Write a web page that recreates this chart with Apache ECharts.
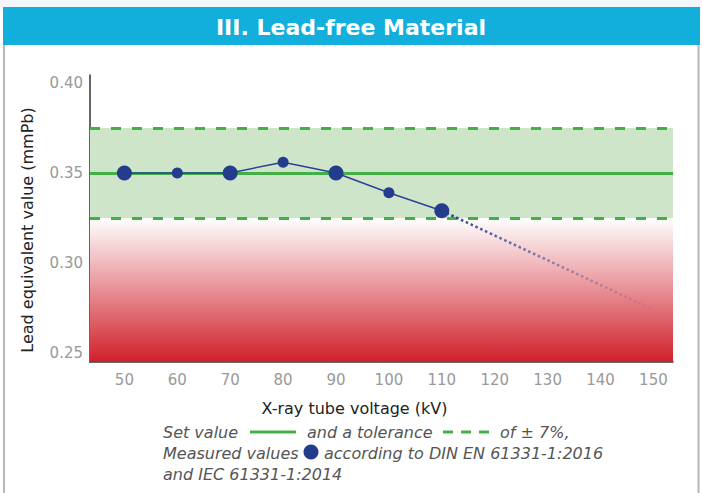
<!DOCTYPE html>
<html>
<head>
<meta charset="utf-8">
<title>III. Lead-free Material</title>
<script src="https://cdn.jsdelivr.net/npm/echarts@6/dist/echarts.min.js"></script>
<style>
  html, body { margin: 0; padding: 0; background: #fff; }
  #chart { width: 702px; height: 493px; }
</style>
</head>
<body>
<div id="chart"></div>
<script>
// data
var voltages = [50, 60, 70, 80, 90, 100, 110];
var measured = [0.350, 0.350, 0.350, 0.356, 0.350, 0.339, 0.329];
var trendX = [110, 150];
var trendY = [0.329, 0.274];
var setValue = 0.35;
var tolerance = 0.025;
var xTicks = [50, 60, 70, 80, 90, 100, 110, 120, 130, 140, 150];
var yTicks = [0.25, 0.30, 0.35, 0.40];

var FONT = '"DejaVu Sans", Verdana, sans-serif';
var BLUE = '#233c8c';
var GREEN = '#43b047';

var chart = echarts.init(document.getElementById('chart'), null, { renderer: 'svg' });

var option = {
  animation: false,
  grid: { left: 90, right: 29, top: 75, bottom: 131 },
  xAxis: {
    type: 'value',
    min: 43.5,
    max: 153.7,
    name: 'X-ray tube voltage (kV)',
    nameLocation: 'middle',
    nameGap: 38,
    nameTextStyle: { color: '#222', fontSize: 16, fontFamily: FONT, padding: [0, 54, 0, 0] },
    axisLine: { lineStyle: { color: '#333', width: 1.5 } },
    axisTick: { show: false },
    splitLine: { show: false },
    axisLabel: {
      customValues: xTicks,
      color: '#999',
      fontSize: 15,
      fontFamily: FONT,
      margin: 10
    }
  },
  yAxis: {
    type: 'value',
    min: 0.245,
    max: 0.4044,
    name: 'Lead equivalent value (mmPb)',
    nameLocation: 'middle',
    nameGap: 55,
    nameTextStyle: { color: '#222', fontSize: 16, fontFamily: FONT, padding: [0, 23, 0, 0] },
    axisLine: { show: true, lineStyle: { color: '#333', width: 1.5 } },
    axisTick: { show: false },
    splitLine: { show: false },
    axisLabel: {
      customValues: yTicks,
      formatter: function (v) { return v.toFixed(2); },
      color: '#999',
      fontSize: 15,
      fontFamily: FONT,
      margin: 7
    }
  },
  series: [
    {
      // background bands and reference lines
      type: 'line',
      z: 1,
      data: [],
      markArea: {
        silent: true,
        z: 1,
        data: [
          [
            { yAxis: 0.245, itemStyle: { color: new echarts.graphic.LinearGradient(0, 1, 0, 0, [
              { offset: 0, color: '#d0202b' },
              { offset: 1, color: '#ffffff' }
            ]) } },
            { yAxis: setValue - tolerance }
          ],
          [
            { yAxis: setValue - tolerance, itemStyle: { color: '#cfe5c9' } },
            { yAxis: setValue + tolerance }
          ]
        ]
      },
      markLine: {
        silent: true,
        z: 2,
        symbol: 'none',
        precision: 4,
        label: { show: false },
        data: [
          { yAxis: setValue, lineStyle: { color: GREEN, width: 3, type: 'solid' } },
          { yAxis: setValue + tolerance, lineStyle: { color: GREEN, width: 3, type: [10, 11] } },
          { yAxis: setValue - tolerance, lineStyle: { color: GREEN, width: 3, type: [10, 11] } }
        ]
      }
    },
    {
      // extrapolated trend, fading out
      type: 'line',
      z: 3,
      symbol: 'none',
      data: trendX.map(function (x, i) { return [x, trendY[i]]; }),
      lineStyle: {
        width: 2.5,
        type: [2.5, 2.8],
        color: new echarts.graphic.LinearGradient(0, 0, 1, 0, [
          { offset: 0, color: 'rgba(35,60,140,1)' },
          { offset: 1, color: 'rgba(35,60,140,0.05)' }
        ])
      }
    },
    {
      name: 'Measured values',
      type: 'line',
      z: 4,
      symbol: 'circle',
      symbolSize: function (v, p) { return p.dataIndex % 2 === 0 ? 15 : 11; },
      data: voltages.map(function (x, i) { return [x, measured[i]]; }),
      itemStyle: { color: BLUE },
      lineStyle: { color: '#2b4396', width: 1.5 }
    }
  ],
  graphic: [
    { type: 'rect', shape: { x: 0, y: 0, width: 702, height: 7 }, style: { fill: '#f4f7fa' } },
    { type: 'rect', shape: { x: 3, y: 7, width: 697, height: 38 }, style: { fill: '#13afdc' } },
    { type: 'line', shape: { x1: 4, y1: 45, x2: 4, y2: 493 }, style: { stroke: '#b8b8b8', lineWidth: 2 } },
    { type: 'line', shape: { x1: 698.5, y1: 45, x2: 698.5, y2: 493 }, style: { stroke: '#b8b8b8', lineWidth: 2 } },
    {
      type: 'text', x: 351, y: 27,
      style: { text: 'III. Lead-free Material', fill: '#fff', font: 'bold 22px ' + FONT, textAlign: 'center', textVerticalAlign: 'middle' }
    },
    // legend sentence
    { type: 'text', x: 163, y: 432, style: { text: 'Set value', fill: '#555', font: 'italic 16px ' + FONT, textVerticalAlign: 'middle' } },
    { type: 'line', shape: { x1: 250, y1: 432, x2: 296, y2: 432 }, style: { stroke: GREEN, lineWidth: 3 } },
    { type: 'text', x: 307, y: 432, style: { text: 'and a tolerance', fill: '#555', font: 'italic 16px ' + FONT, textVerticalAlign: 'middle' } },
    { type: 'line', shape: { x1: 443, y1: 432, x2: 489, y2: 432 }, style: { stroke: GREEN, lineWidth: 3, lineDash: [10, 8] } },
    { type: 'text', x: 500, y: 432, style: { text: 'of ± 7%,', fill: '#555', font: 'italic 16px ' + FONT, textVerticalAlign: 'middle' } },
    { type: 'text', x: 163, y: 453, style: { text: 'Measured values', fill: '#555', font: 'italic 16px ' + FONT, textVerticalAlign: 'middle' } },
    { type: 'circle', shape: { cx: 311, cy: 452, r: 7.5 }, style: { fill: BLUE } },
    { type: 'text', x: 324, y: 453, style: { text: 'according to DIN EN 61331-1:2016', fill: '#555', font: 'italic 16px ' + FONT, textVerticalAlign: 'middle' } },
    { type: 'text', x: 163, y: 474, style: { text: 'and IEC 61331-1:2014', fill: '#555', font: 'italic 16px ' + FONT, textVerticalAlign: 'middle' } }
  ]
};

chart.setOption(option);
</script>
</body>
</html>
